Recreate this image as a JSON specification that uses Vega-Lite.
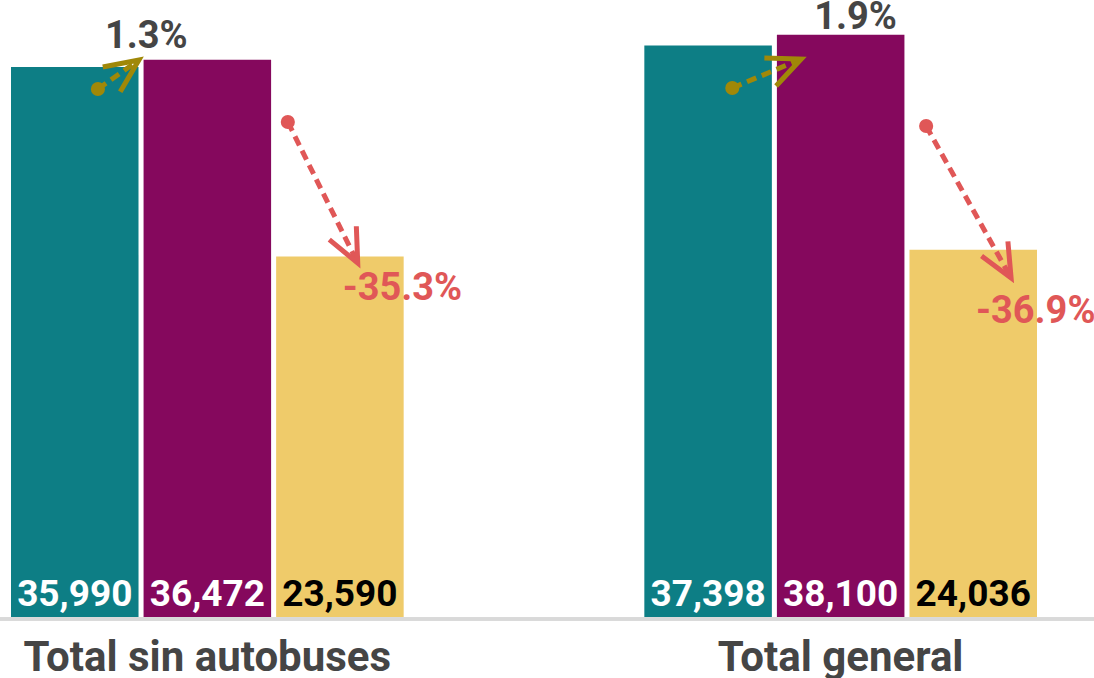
{
  "$schema": "https://vega.github.io/schema/vega-lite/v6.json",
  "width": 1094,
  "height": 617,
  "padding": {"left": 0, "right": 0, "top": 0, "bottom": 61},
  "autosize": {"type": "none"},
  "background": "white",
  "config": {"view": {"stroke": null}, "font": "Roboto"},
  "datasets": {
    "barras": [
      {"grupo": "Total sin autobuses", "serie": "2018", "valor": 35990},
      {"grupo": "Total sin autobuses", "serie": "2019", "valor": 36472},
      {"grupo": "Total sin autobuses", "serie": "2020", "valor": 23590},
      {"grupo": "Total general", "serie": "2018", "valor": 37398},
      {"grupo": "Total general", "serie": "2019", "valor": 38100},
      {"grupo": "Total general", "serie": "2020", "valor": 24036}
    ],
    "flechas": [
      {"flecha": "a1", "tipo": "sube", "grupo": "Total sin autobuses", "punto": "inicio", "orden": 1, "pos": 0.664, "valor": 34555},
      {"flecha": "a1", "tipo": "sube", "grupo": "Total sin autobuses", "punto": "fin", "orden": 2, "pos": 0.977, "valor": 36453},
      {"flecha": "a2", "tipo": "baja", "grupo": "Total sin autobuses", "punto": "inicio", "orden": 1, "pos": 2.115, "valor": 32395},
      {"flecha": "a2", "tipo": "baja", "grupo": "Total sin autobuses", "punto": "fin", "orden": 2, "pos": 2.649, "valor": 23168},
      {"flecha": "a3", "tipo": "sube", "grupo": "Total general", "punto": "inicio", "orden": 1, "pos": 0.672, "valor": 34620},
      {"flecha": "a3", "tipo": "sube", "grupo": "Total general", "punto": "fin", "orden": 2, "pos": 1.198, "valor": 36518},
      {"flecha": "a4", "tipo": "baja", "grupo": "Total general", "punto": "inicio", "orden": 1, "pos": 2.153, "valor": 32134},
      {"flecha": "a4", "tipo": "baja", "grupo": "Total general", "punto": "fin", "orden": 2, "pos": 2.802, "valor": 22186}
    ],
    "etiquetas": [
      {"tipo": "sube", "grupo": "Total sin autobuses", "pos": 0.718, "valor": 37238, "texto": "1.3%"},
      {"tipo": "baja", "grupo": "Total sin autobuses", "pos": 2.534, "valor": 20746, "texto": "-35.3%"},
      {"tipo": "sube", "grupo": "Total general", "pos": 1.298, "valor": 38482, "texto": "1.9%"},
      {"tipo": "baja", "grupo": "Total general", "pos": 2.534, "valor": 19241, "texto": "-36.9%"}
    ]
  },
  "encoding": {
    "x": {
      "field": "grupo",
      "type": "nominal",
      "sort": ["Total sin autobuses", "Total general"],
      "scale": {"domain": ["Total sin autobuses", "Total general"], "range": [11, 1037], "paddingInner": 0.38, "paddingOuter": 0},
      "axis": {"title": null, "ticks": false, "domain": false, "labelAngle": 0, "labelFont": "Roboto", "labelFontWeight": "bold", "labelFontSize": 42, "labelColor": "#454545", "labelPadding": 53, "labelBaseline": "alphabetic", "labelLimit": 1000, "labelOverlap": false}
    },
    "y": {
      "field": "valor",
      "type": "quantitative",
      "scale": {"domain": [0, 40380], "nice": false, "zero": true},
      "axis": null
    }
  },
  "layer": [
    {
      "data": {"name": "barras"},
      "mark": {"type": "rule", "color": "#d9d9d9", "strokeWidth": 3, "yOffset": 2},
      "encoding": {"y": {"datum": 0}, "x": null}
    },
    {
      "data": {"name": "barras"},
      "mark": {"type": "bar"},
      "encoding": {
        "xOffset": {"field": "serie", "type": "nominal", "scale": {"domain": ["2018", "2019", "2020"], "paddingInner": 0.038, "paddingOuter": 0}},
        "color": {"field": "serie", "type": "nominal", "scale": {"domain": ["2018", "2019", "2020"], "range": ["#0d7e85", "#85085d", "#efcb6a"]}, "legend": null}
      }
    },
    {
      "data": {"name": "barras"},
      "mark": {"type": "text", "font": "Roboto", "fontWeight": "bold", "fontSize": 37, "baseline": "alphabetic", "align": "center", "dy": -11},
      "encoding": {
        "y": {"datum": 0},
        "xOffset": {"field": "serie", "type": "nominal", "scale": {"type": "band", "domain": ["2018", "2019", "2020"], "paddingInner": 0.038, "paddingOuter": 0}},
        "text": {"field": "valor", "type": "quantitative", "format": ",d"},
        "color": {"field": "serie", "type": "nominal", "scale": {"domain": ["2018", "2019", "2020"], "range": ["#ffffff", "#ffffff", "#000000"]}, "legend": null}
      }
    },
    {
      "data": {"name": "flechas"},
      "mark": {"type": "line", "strokeWidth": 5, "strokeDash": [10, 6]},
      "encoding": {
        "xOffset": {"field": "pos", "type": "quantitative", "scale": {"domain": [0, 3], "nice": false, "zero": true}},
        "detail": {"field": "flecha"},
        "order": {"field": "orden"},
        "color": {"field": "tipo", "type": "nominal", "scale": {"domain": ["sube", "baja"], "range": ["#a08808", "#e05757"]}, "legend": null}
      }
    },
    {
      "data": {"name": "flechas"},
      "transform": [{"filter": "datum.punto == 'inicio'"}],
      "mark": {"type": "point", "filled": true, "size": 200, "opacity": 1},
      "encoding": {
        "xOffset": {"field": "pos", "type": "quantitative", "scale": {"domain": [0, 3], "nice": false, "zero": true}},
        "color": {"field": "tipo", "type": "nominal", "scale": {"domain": ["sube", "baja"], "range": ["#a08808", "#e05757"]}, "legend": null}
      }
    },
    {
      "data": {"name": "flechas"},
      "transform": [{"filter": "datum.flecha == 'a1' && datum.punto == 'fin'"}],
      "mark": {"type": "point", "shape": "M-0.45,-1L0,0L0.45,-1", "filled": false, "size": 4500, "strokeWidth": 5, "angle": -125.3, "opacity": 1, "color": "#a08808"},
      "encoding": {
        "xOffset": {"field": "pos", "type": "quantitative", "scale": {"domain": [0, 3], "nice": false, "zero": true}}
      }
    },
    {
      "data": {"name": "flechas"},
      "transform": [{"filter": "datum.flecha == 'a2' && datum.punto == 'fin'"}],
      "mark": {"type": "point", "shape": "M-0.45,-1L0,0L0.45,-1", "filled": false, "size": 4500, "strokeWidth": 5, "angle": -26.4, "opacity": 1, "color": "#e05757"},
      "encoding": {
        "xOffset": {"field": "pos", "type": "quantitative", "scale": {"domain": [0, 3], "nice": false, "zero": true}}
      }
    },
    {
      "data": {"name": "flechas"},
      "transform": [{"filter": "datum.flecha == 'a3' && datum.punto == 'fin'"}],
      "mark": {"type": "point", "shape": "M-0.45,-1L0,0L0.45,-1", "filled": false, "size": 4500, "strokeWidth": 5, "angle": -112.8, "opacity": 1, "color": "#a08808"},
      "encoding": {
        "xOffset": {"field": "pos", "type": "quantitative", "scale": {"domain": [0, 3], "nice": false, "zero": true}}
      }
    },
    {
      "data": {"name": "flechas"},
      "transform": [{"filter": "datum.flecha == 'a4' && datum.punto == 'fin'"}],
      "mark": {"type": "point", "shape": "M-0.45,-1L0,0L0.45,-1", "filled": false, "size": 4500, "strokeWidth": 5, "angle": -29.2, "opacity": 1, "color": "#e05757"},
      "encoding": {
        "xOffset": {"field": "pos", "type": "quantitative", "scale": {"domain": [0, 3], "nice": false, "zero": true}}
      }
    },
    {
      "data": {"name": "etiquetas"},
      "mark": {"type": "text", "font": "Roboto", "fontWeight": "bold", "fontSize": 38, "baseline": "alphabetic", "align": "left"},
      "encoding": {
        "xOffset": {"field": "pos", "type": "quantitative", "scale": {"domain": [0, 3], "nice": false, "zero": true}},
        "text": {"field": "texto"},
        "color": {"field": "tipo", "type": "nominal", "scale": {"domain": ["sube", "baja"], "range": ["#454545", "#e05757"]}, "legend": null}
      }
    }
  ],
  "resolve": {"scale": {"xOffset": "independent", "color": "independent"}}
}
